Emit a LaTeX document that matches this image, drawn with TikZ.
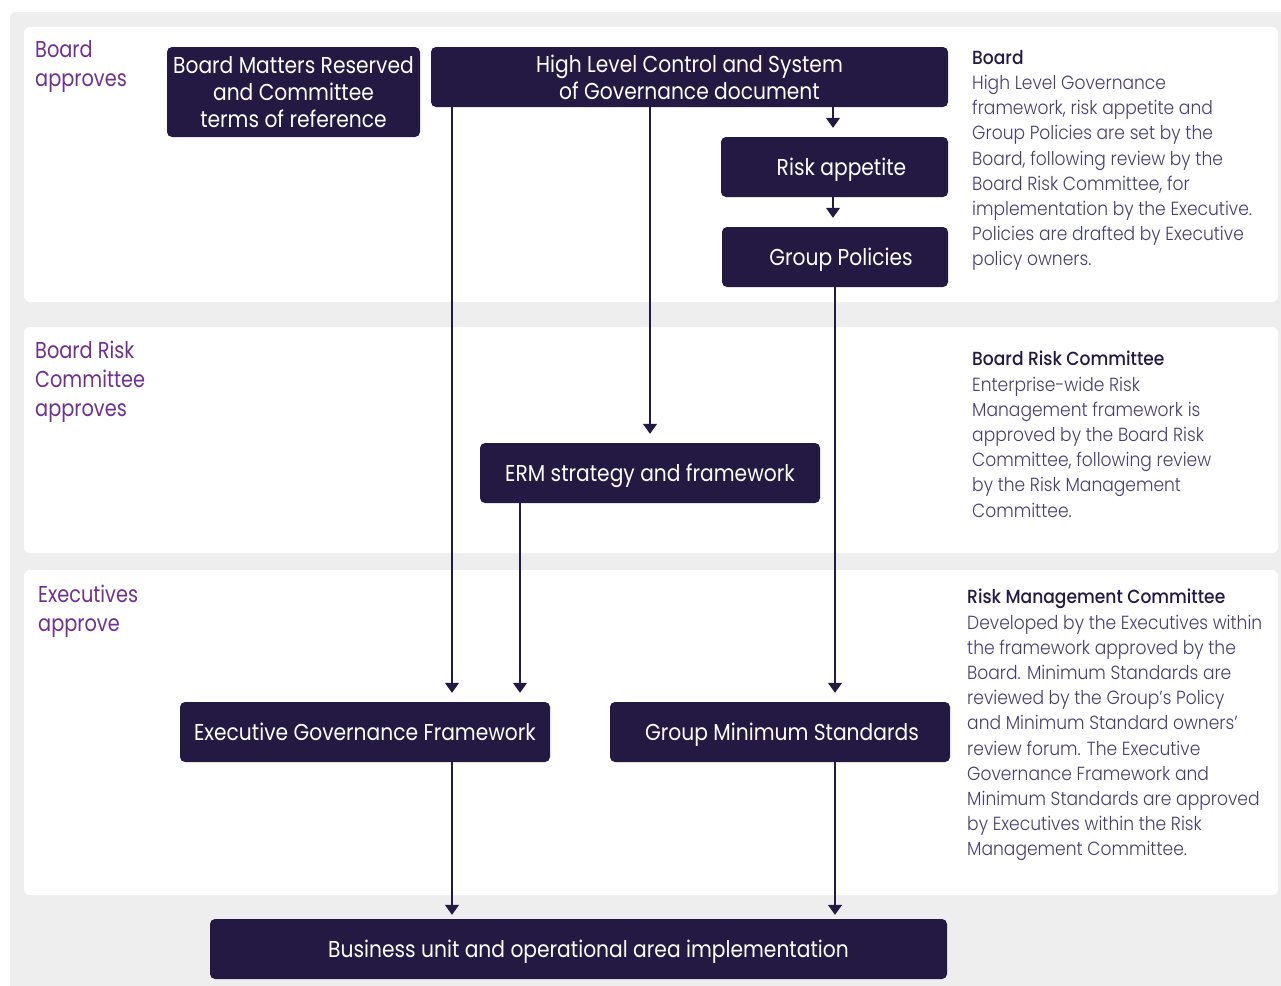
\documentclass[tikz,border=0pt]{standalone}
\usepackage{fontspec}
\setmainfont{Poppins}
\IfFontExistsTF{Poppins Light}{\newfontfamily\lightfont{Poppins Light}[FakeStretch=0.9]}{\newfontfamily\lightfont{Poppins}[FakeStretch=0.9]}
\IfFontExistsTF{Poppins Medium}{\newfontfamily\headfont{Poppins Medium}[FakeStretch=0.9]}{\newfontfamily\headfont{Poppins}[FakeStretch=0.92]}
\newfontfamily\boxfont{Poppins}[FakeStretch=0.88]
\newfontfamily\labfont{Poppins}[FakeStretch=0.84]
\usetikzlibrary{arrows.meta,calc}
\definecolor{navy}{HTML}{231942}
\definecolor{bggray}{HTML}{EEEEEE}
\definecolor{lab}{HTML}{70308F}
\definecolor{body}{HTML}{45406C}
\tikzset{
  boxn/.style={fill=navy, rounded corners=5pt, text=white, align=center, inner sep=0pt,
    font=\boxfont\fontsize{23}{27}\selectfont},
  one/.style={text height=22pt, text depth=6pt},
  arr/.style={draw=navy, line width=1.3pt, -{Triangle[width=14pt,length=10pt]}},
  panel/.style={fill=white, rounded corners=6pt},
  labn/.style={anchor=north west, align=left, inner sep=0pt, text=lab,
    font=\labfont\fontsize{23}{29}\selectfont},
  bodyn/.style={anchor=north west, align=left, inner sep=0pt, text=body,
    font=\lightfont\fontsize{19}{25.2}\selectfont},
}
\newcommand{\hd}[1]{{\headfont\color{navy}#1}}
\begin{document}
\begin{tikzpicture}[x=1pt,y=-1pt]
\useasboundingbox (0,0) rectangle (1281,985);
\fill[bggray, rounded corners=6pt] (10,12) rectangle (1300,1005);
\fill[panel] (24,27) rectangle (1278,302);
\fill[panel] (24,327) rectangle (1278,553);
\fill[panel] (24,570) rectangle (1278,895);

% labels
\node[labn] (l1) at (35,40) {Board\\approves};
\node[labn] (l2) at (35,341) {Board Risk\\Committee\\approves};
\node[labn] (l3) at (38,585) {Executives\\approve};

% boxes
\node[boxn, minimum width=253pt, minimum height=90pt] (bm) at (293.5,92) {Board Matters Reserved\\and Committee\\terms of reference};
\node[boxn, minimum width=517pt, minimum height=60pt] (hl) at (689.5,77) {High Level Control and System\\of Governance document};
\node[boxn, one, minimum width=227pt, minimum height=60pt] (ra) at (834.5,167) {\hspace*{14pt}Risk appetite};
\node[boxn, one, minimum width=226pt, minimum height=60pt] (gp) at (835,257) {\hspace*{12pt}Group Policies};
\node[boxn, one, minimum width=340pt, minimum height=60pt] (erm) at (650,473) {ERM strategy and framework};
\node[boxn, one, minimum width=370pt, minimum height=60pt] (eg) at (365,732) {Executive Governance Framework};
\node[boxn, one, minimum width=340pt, minimum height=60pt] (gm) at (780,732) {\hspace*{4pt}Group Minimum Standards};
\node[boxn, one, minimum width=737pt, minimum height=60pt] (bu) at (578.5,949) {\hspace*{20pt}Business unit and operational area implementation};

% column coordinates
\coordinate (xa) at (452,0);
\coordinate (xb) at (650,0);
\coordinate (xc) at (833,0);
\coordinate (xd) at (835,0);
\coordinate (xe) at (520,0);

% connectors
\draw[arr] (hl.south -| xc) -- ($(ra.north -| xc)+(0,-9)$);
\draw[arr] (ra.south -| xc) -- ($(gp.north -| xc)+(0,-9)$);
\draw[arr] (hl.south -| xb) -- ($(erm.north -| xb)+(0,-9)$);
\draw[arr] (hl.south -| xa) -- ($(eg.north -| xa)+(0,-9)$);
\draw[arr] (erm.south -| xe) -- ($(eg.north -| xe)+(0,-9)$);
\draw[arr] (gp.south -| xd) -- ($(gm.north -| xd)+(0,-9)$);
\draw[arr] (eg.south -| xa) -- ($(bu.north -| xa)+(0,-4)$);
\draw[arr] (gm.south -| xd) -- ($(bu.north -| xd)+(0,-4)$);

% right texts
\node[bodyn] (t1) at (972,50) {\hd{Board}\\High Level Governance\\framework, risk appetite and\\Group Policies are set by the\\Board, following review by the\\Board Risk Committee, for\\implementation by the Executive.\\Policies are drafted by Executive\\policy owners.};
\node[bodyn] (t2) at (972,351) {\hd{Board Risk Committee}\\Enterprise-wide Risk\\Management framework is\\approved by the Board Risk\\Committee, following review\\by the Risk Management\\Committee.};
\node[bodyn] (t3) at (967,589) {\hd{Risk Management Committee}\\Developed by the Executives within\\the framework approved by the\\Board. Minimum Standards are\\reviewed by the Group’s Policy\\and Minimum Standard owners’\\review forum. The Executive\\Governance Framework and\\Minimum Standards are approved\\by Executives within the Risk\\Management Committee.};
\end{tikzpicture}
\end{document}
